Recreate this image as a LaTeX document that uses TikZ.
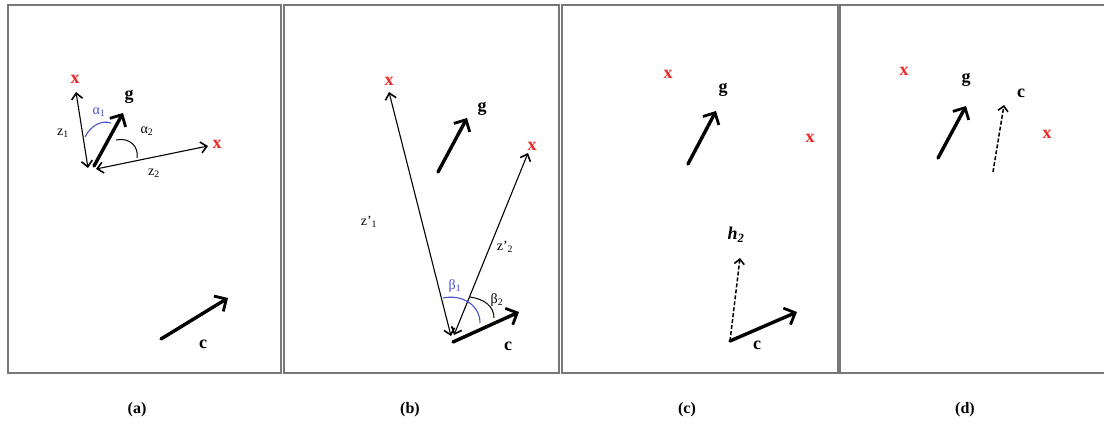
\documentclass[tikz,border=0pt]{standalone}
\usepackage{fontspec}
\setmainfont{Liberation Serif}
\usetikzlibrary{arrows.meta}
\definecolor{xred}{RGB}{235,40,40}
\definecolor{ablue}{RGB}{70,80,200}
\definecolor{frame}{RGB}{120,120,120}
\tikzset{
  panel/.style={draw=frame,line width=1.8pt},
  bigvec/.style={line width=3.4pt,-{Straight Barb[length=9pt,width=18pt,line width=2.8pt]},line cap=round},
  thinvec/.style={line width=1.1pt,{Straight Barb[length=6pt,width=11pt,line width=1.6pt]}-{Straight Barb[length=6pt,width=11pt,line width=1.6pt]}},
  dashvec/.style={line width=1.5pt,dash pattern=on 4pt off 2pt,-{Straight Barb[length=5pt,width=10pt,line width=1.6pt]}},
  xlab/.style={text=xred,font=\fontsize{18}{20}\selectfont\bfseries,inner sep=0pt},
  vlab/.style={font=\fontsize{18}{20}\selectfont\bfseries,inner sep=0pt},
  zlab/.style={font=\fontsize{14}{16}\selectfont,inner sep=0pt},
  alab/.style={text=ablue,font=\fontsize{14}{16}\selectfont,inner sep=0pt},
  caption/.style={font=\fontsize{16}{18}\selectfont\bfseries,inner sep=0pt},
}
\begin{document}
\begin{tikzpicture}[x=1pt,y=-1pt]
\useasboundingbox (0,0) rectangle (1104,425);
\fill[white] (0,0) rectangle (1104,425);
% panels
\draw[panel] (8,5) rectangle (281,373);
\draw[panel] (284,5) rectangle (559,373);
\draw[panel] (562,5) rectangle (838,373);
\draw[panel] (840,5) rectangle (1110,373);
% captions
\node[caption] (capa) at (137,410) {(a)};
\node[caption] (capb) at (410,410) {(b)};
\node[caption] (capc) at (687,410) {(c)};
\node[caption] (capd) at (965,410) {(d)};

% ---------- panel (a)
\node[xlab] (ax1) at (75,79) {x};
\node[xlab] (ax2) at (217,144) {x};
\node[vlab] (ag) at (129,97) {g};
\coordinate (aO1) at (88,168);
\coordinate (aT1) at (76,92);
\coordinate (aO2) at (96,169);
\coordinate (aT2) at (208,146);
\draw[thinvec] (aO1) -- (aT1);
\draw[thinvec] (aO2) -- (aT2);
\coordinate (agS) at (94,166);
\coordinate (agE) at (123,113);
\draw[bigvec] (agS) -- (agE);
\draw[ablue,line width=1.1pt] (85,137) .. controls (91,125) and (102,120) .. (111,123);
\draw[line width=1pt] (116,140) .. controls (130,137) and (139,147) .. (137,158);
\node[alab] (aa1) at (99,112) {α\textsubscript{1}};
\node[zlab] (aa2) at (147,131) {α\textsubscript{2}};
\node[zlab] (az1) at (63,133) {z\textsubscript{1}};
\node[zlab] (az2) at (154,173) {z\textsubscript{2}};
\coordinate (acS) at (161,339);
\coordinate (acE) at (228,298);
\draw[bigvec] (acS) -- (acE);
\node[vlab] (ac) at (203,344) {c};

% ---------- panel (b)
\node[xlab] (bx1) at (389,81) {x};
\node[xlab] (bx2) at (532,146) {x};
\node[vlab] (bg) at (482,109) {g};
\coordinate (bgS) at (438,172);
\coordinate (bgE) at (467,118);
\draw[bigvec] (bgS) -- (bgE);
\coordinate (bO1) at (451,336);
\coordinate (bT1) at (389,92);
\coordinate (bO2) at (454,335);
\coordinate (bT2) at (528,153);
\draw[thinvec] (bO1) -- (bT1);
\draw[thinvec] (bO2) -- (bT2);
\coordinate (bcS) at (453,342);
\coordinate (bcE) at (519,312);
\draw[bigvec] (bcS) -- (bcE);
\node[vlab] (bc) at (508,346) {c};
\node[zlab] (bz1) at (369,222) {z'\textsubscript{1}};
\node[zlab] (bz2) at (505,247) {z'\textsubscript{2}};
\draw[ablue,line width=1.1pt] (443,298) .. controls (462,294) and (480,305) .. (480,323);
\draw[line width=1pt] (470,297) .. controls (484,299) and (494,306) .. (494,318);
\node[alab] (bb1) at (455,286) {β\textsubscript{1}};
\node[zlab] (bb2) at (497,300) {β\textsubscript{2}};

% ---------- panel (c)
\node[xlab] (cx1) at (668,74) {x};
\node[xlab] (cx2) at (810,138) {x};
\node[vlab] (cg) at (723,90) {g};
\coordinate (cgS) at (688,164);
\coordinate (cgE) at (716,111);
\draw[bigvec] (cgS) -- (cgE);
\coordinate (cO) at (730,341);
\coordinate (chE) at (740,258);
\coordinate (ccE) at (797,312);
\draw[dashvec] (cO) -- (chE);
\draw[bigvec] (cO) -- (ccE);
\node[vlab,font=\fontsize{18}{20}\selectfont\bfseries\itshape] (ch) at (736,235) {h\textsubscript{2}};
\node[vlab] (cc) at (757,345) {c};

% ---------- panel (d)
\node[xlab] (dx1) at (904,71) {x};
\node[xlab] (dx2) at (1047,134) {x};
\node[vlab] (dg) at (966,80) {g};
\coordinate (dgS) at (938,158);
\coordinate (dgE) at (966,106);
\draw[bigvec] (dgS) -- (dgE);
\coordinate (dcS) at (993,172);
\coordinate (dcE) at (1004,105);
\draw[dashvec] (dcS) -- (dcE);
\node[vlab] (dc) at (1021,93) {c};
\end{tikzpicture}
\end{document}
